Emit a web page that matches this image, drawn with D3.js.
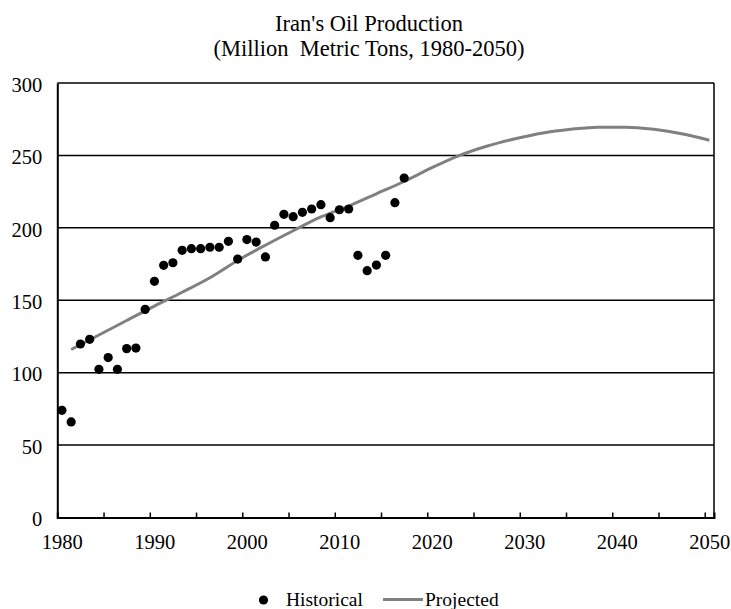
<!DOCTYPE html>
<html>
<head>
<meta charset="utf-8">
<script src="https://cdn.jsdelivr.net/npm/d3@7"></script>
<style>
  html, body { margin: 0; padding: 0; background: #fff; }
  svg { display: block; }
  text { font-family: "Liberation Serif", "Times New Roman", serif; fill: #000; }
</style>
</head>
<body>
<svg id="chart" width="731" height="609"></svg>
<script>
// ---- Data ----
const titleLines = ["Iran's Oil Production", "(Million\u00a0 Metric Tons, 1980-2050)"];

const historicalYears = [1980,1981,1982,1983,1984,1985,1986,1987,1988,1989,
  1990,1991,1992,1993,1994,1995,1996,1997,1998,1999,
  2000,2001,2002,2003,2004,2005,2006,2007,2008,2009,
  2010,2011,2012,2013,2014,2015,2016,2017];
const historicalValues = [74,66,119.8,123,102.3,110.4,102.3,116.6,117,143.7,
  163.1,174.1,175.9,184.5,185.6,185.6,186.6,186.6,190.7,178.4,
  191.9,190.2,179.9,201.8,209.3,207.7,210.7,213,216,207,
  212.5,213,181,170.4,174.3,181,217.4,234.4];

const projectedYears = [1981,1984,1987,1990,1993,1996,1999,2002,2005,2008,
  2011,2014,2017,2020,2023,2026,2029,2032,2035,2038,2041,2044,2047,2050];
const projectedValues = [116,126,136,146,155.5,165.5,177.5,188,198,207.5,
  215,223.5,232,241.5,250,256.5,261.5,265.5,268,269.5,269.5,268,265,260.5];

const xTickValues = [1980,1985,1990,1995,2000,2005,2010,2015,2020,2025,2030,2035,2040,2045,2050];
const xLabelValues = [1980,1990,2000,2010,2020,2030,2040,2050];
const yTickValues = [0,50,100,150,200,250,300];

const legendLabels = ["Historical", "Projected"];

// ---- Layout ----
const svg = d3.select("#chart");
const plot = { left: 57.3, right: 714, top: 83, bottom: 517.5 };
const x = d3.scaleLinear().domain([1980, 2051]).range([plot.left, plot.right]);
const y = d3.scaleLinear().domain([0, 300]).range([plot.bottom, plot.top]);
const midYear = 0.5; // annual values plotted at mid-year

// Title
svg.append("g").selectAll("text").data(titleLines).join("text")
  .attr("x", 369)
  .attr("y", (d, i) => 31 + i * 25)
  .attr("text-anchor", "middle")
  .style("font-size", "22.5px")
  .text(d => d);

// Gridlines
svg.append("g").selectAll("line").data(yTickValues.filter(v => v > 0)).join("line")
  .attr("x1", plot.left).attr("x2", plot.right)
  .attr("y1", d => y(d)).attr("y2", d => y(d))
  .attr("stroke", "#000").attr("stroke-width", 1.5);

// Right border
svg.append("line")
  .attr("x1", plot.right).attr("x2", plot.right)
  .attr("y1", y(300)).attr("y2", y(0))
  .attr("stroke", "#000").attr("stroke-width", 1.5);

// Y axis
const yAxis = d3.axisLeft(y).tickValues(yTickValues).tickSize(0).tickPadding(15);
const gy = svg.append("g").attr("transform", `translate(${plot.left},0)`).call(yAxis);
gy.select(".domain").attr("stroke", "#000").attr("stroke-width", 2);
gy.selectAll("text").style("font-size", "20.5px").style("font-family", "Liberation Serif").attr("dy", "0.4em");

// X axis
const xAxis = d3.axisBottom(x).tickValues(xTickValues).tickSize(-5).tickFormat("");
const gx = svg.append("g").attr("transform", `translate(0,${plot.bottom})`).call(xAxis);
gx.select(".domain").attr("stroke", "#000").attr("stroke-width", 2);
gx.selectAll(".tick line").attr("stroke", "#000").attr("stroke-width", 1.5);

svg.append("g").selectAll("text").data(xLabelValues).join("text")
  .attr("x", d => x(d) + 5)
  .attr("y", 548.5)
  .attr("text-anchor", "middle")
  .style("font-size", "20.5px")
  .text(d => d);

// Projected line
const projected = projectedYears.map((yr, i) => ({ year: yr, value: projectedValues[i] }));
svg.append("path")
  .datum(projected)
  .attr("fill", "none")
  .attr("stroke", "#808080")
  .attr("stroke-width", 3)
  .attr("d", d3.line().x(d => x(d.year + midYear)).y(d => y(d.value)).curve(d3.curveMonotoneX));

// Historical points
const historical = historicalYears.map((yr, i) => ({ year: yr, value: historicalValues[i] }));
svg.append("g").selectAll("circle").data(historical).join("circle")
  .attr("cx", d => x(d.year + midYear))
  .attr("cy", d => y(d.value))
  .attr("r", 4.6)
  .attr("fill", "#000");

// Legend
const lg = svg.append("g");
lg.append("circle").attr("cx", 263.5).attr("cy", 600).attr("r", 4.6).attr("fill", "#000");
lg.append("text").attr("x", 286).attr("y", 606).style("font-size", "19.5px").text(legendLabels[0]);
lg.append("line").attr("x1", 383).attr("x2", 423).attr("y1", 599.5).attr("y2", 599.5)
  .attr("stroke", "#808080").attr("stroke-width", 3);
lg.append("text").attr("x", 425).attr("y", 606).style("font-size", "19.5px").text(legendLabels[1]);
</script>
</body>
</html>
